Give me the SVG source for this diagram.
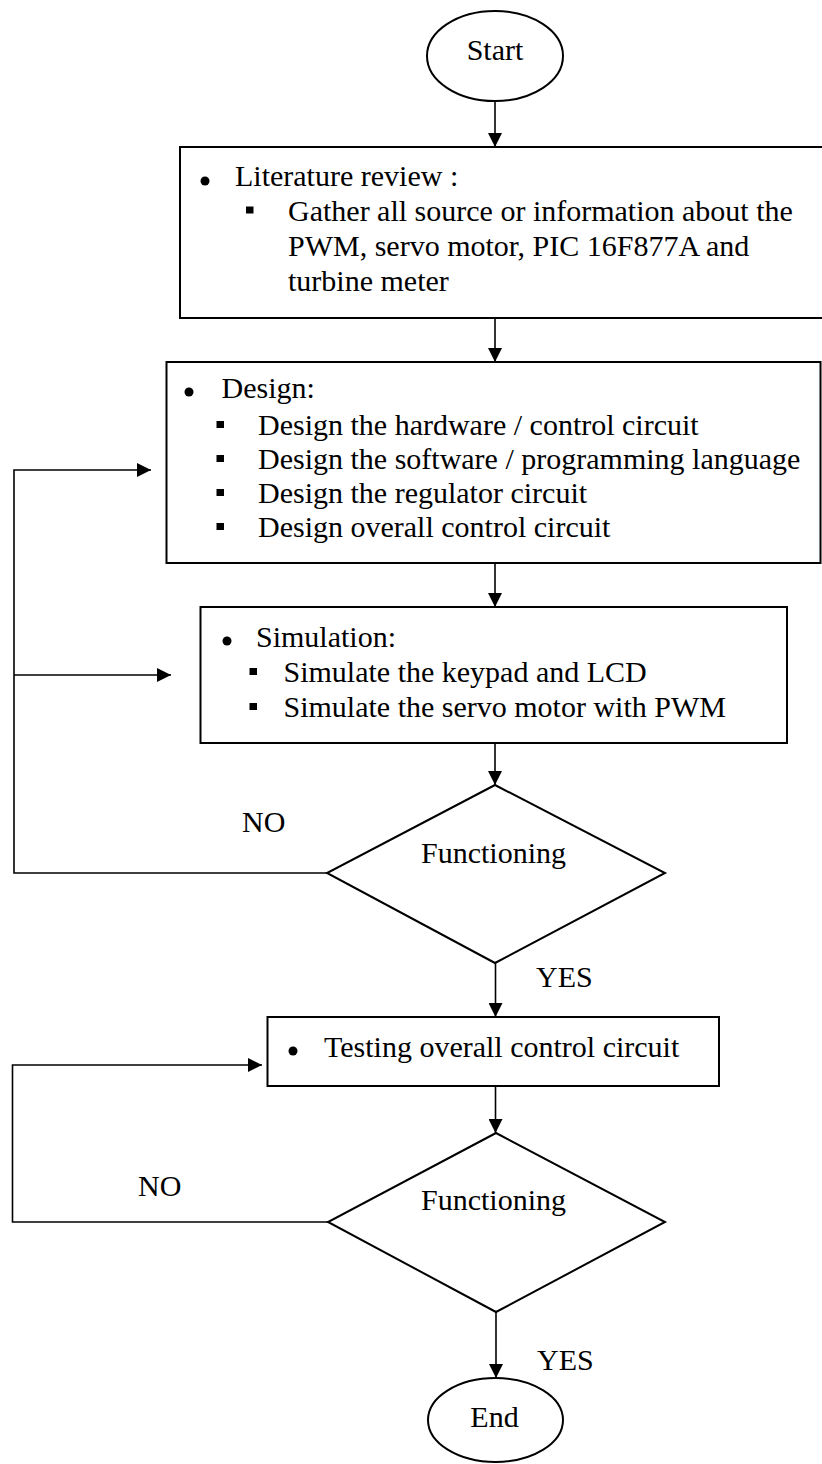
<svg xmlns="http://www.w3.org/2000/svg" width="822" height="1464" viewBox="0 0 822 1464">
<style>
  .box { fill: #ffffff; stroke: #000000; stroke-width: 2; }
  .conn { fill: none; stroke: #000000; stroke-width: 1.6; }
  .dot { fill: #000000; }
  text { font-family: "Liberation Serif", "Times New Roman", serif; font-size: 30px; fill: #000000; }
  .c { text-anchor: middle; }
</style>
<defs>
  <marker id="arr" markerWidth="14" markerHeight="14" refX="14" refY="7" orient="auto" markerUnits="userSpaceOnUse">
    <path d="M0,0 L14,7 L0,14 z" fill="#000000"/>
  </marker>
</defs>
<rect width="822" height="1464" fill="#ffffff"/>

<g id="connectors">
  <path class="conn" d="M495,101 L495,147" marker-end="url(#arr)"/>
  <path class="conn" d="M495,318 L495,362" marker-end="url(#arr)"/>
  <path class="conn" d="M495,563 L495,607" marker-end="url(#arr)"/>
  <path class="conn" d="M495,743 L495,785" marker-end="url(#arr)"/>
  <path class="conn" d="M327,873 L14,873 L14,470 L151,470" marker-end="url(#arr)"/>
  <path class="conn" d="M14,675 L171,675" marker-end="url(#arr)"/>
  <path class="conn" d="M495.5,963 L495.5,1017" marker-end="url(#arr)"/>
  <path class="conn" d="M495.5,1086 L495.5,1133" marker-end="url(#arr)"/>
  <path class="conn" d="M328,1222 L12.5,1222 L12.5,1065 L262,1065" marker-end="url(#arr)"/>
  <path class="conn" d="M496,1312 L496,1378" marker-end="url(#arr)"/>
  <text x="242" y="832">NO</text>
  <text x="536" y="987">YES</text>
  <text x="138" y="1196">NO</text>
  <text x="537" y="1370">YES</text>
</g>

<g id="start">
  <ellipse class="box" cx="495" cy="56" rx="68" ry="45"/>
  <text class="c" x="495" y="60">Start</text>
</g>

<g id="literature">
  <rect class="box" x="180" y="147" width="660" height="171"/>
  <circle class="dot" cx="205" cy="181" r="4.5"/>
  <text x="235" y="186">Literature review :</text>
  <rect class="dot" x="246" y="206.5" width="7.5" height="7"/>
  <text x="288" y="221">Gather all source or information about the</text>
  <text x="288" y="256">PWM, servo motor, PIC 16F877A and</text>
  <text x="288" y="291">turbine meter</text>
</g>

<g id="design">
  <rect class="box" x="166.5" y="362" width="654" height="201"/>
  <circle class="dot" cx="189" cy="392" r="4.5"/>
  <text x="221.5" y="398">Design:</text>
  <rect class="dot" x="216.5" y="421" width="7.5" height="7"/>
  <text x="258" y="435">Design the hardware / control circuit</text>
  <rect class="dot" x="216.5" y="455" width="7.5" height="7"/>
  <text x="258" y="469">Design the software / programming language</text>
  <rect class="dot" x="216.5" y="489" width="7.5" height="7"/>
  <text x="258" y="503">Design the regulator circuit</text>
  <rect class="dot" x="216.5" y="523" width="7.5" height="7"/>
  <text x="258" y="537">Design overall control circuit</text>
</g>

<g id="simulation">
  <rect class="box" x="200.5" y="607" width="586.5" height="136"/>
  <circle class="dot" cx="227" cy="641" r="4.5"/>
  <text x="256" y="647">Simulation:</text>
  <rect class="dot" x="249.5" y="668" width="7.5" height="7"/>
  <text x="283.5" y="682">Simulate the keypad and LCD</text>
  <rect class="dot" x="249.5" y="703" width="7.5" height="7"/>
  <text x="283.5" y="717">Simulate the servo motor with PWM</text>
</g>

<g id="decision1">
  <polygon class="box" points="495,785 665,873 495,963 327,873" stroke-width="1.6"/>
  <text class="c" x="493.5" y="863">Functioning</text>
</g>

<g id="testing">
  <rect class="box" x="267.5" y="1017" width="451.5" height="69"/>
  <circle class="dot" cx="293" cy="1051" r="4.5"/>
  <text x="324" y="1057">Testing overall control circuit</text>
</g>

<g id="decision2">
  <polygon class="box" points="496,1133 665,1222 496,1312 328,1222" stroke-width="1.6"/>
  <text class="c" x="493.5" y="1210">Functioning</text>
</g>

<g id="end">
  <ellipse class="box" cx="495.5" cy="1420" rx="67.5" ry="42"/>
  <text class="c" x="494.5" y="1427">End</text>
</g>
</svg>
